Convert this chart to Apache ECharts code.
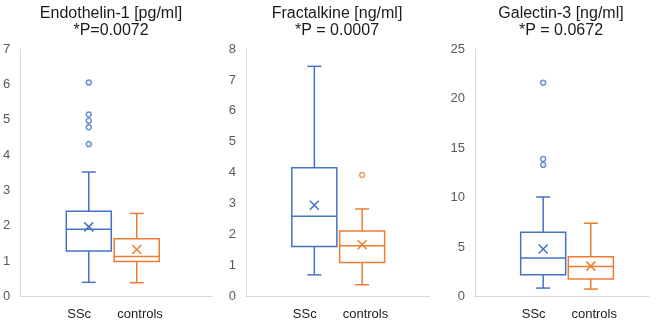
<!DOCTYPE html>
<html>
<head>
<meta charset="utf-8">
<script src="https://cdn.jsdelivr.net/npm/echarts@6/dist/echarts.min.js"></script>
<style>
  html, body { margin: 0; padding: 0; background: #fff; }
  #chart { width: 661px; height: 321px; }
</style>
</head>
<body>
<div id="chart"></div>
<script>
// groups on the x axis
var categories = ['SSc', 'controls'];

// panel titles
var markers = ['Endothelin-1 [pg/ml]', 'Fractalkine [ng/ml]', 'Galectin-3 [ng/ml]'];
var pValues = ['*P=0.0072', '*P = 0.0007', '*P = 0.0672'];

// y axis ticks
var yMax = [7, 8, 25];
var yStep = [1, 1, 5];

// box stats: [min, Q1, median, Q3, max, mean]
var endothelinSSc = [0.40, 1.29, 1.90, 2.41, 3.52, 1.97];
var endothelinControls = [0.39, 0.99, 1.13, 1.63, 2.35, 1.33];
var fractalkineSSc = [0.70, 1.62, 2.59, 4.16, 7.44, 2.95];
var fractalkineControls = [0.38, 1.10, 1.64, 2.12, 2.83, 1.67];
var galectinSSc = [0.85, 2.19, 3.88, 6.50, 10.05, 4.79];
var galectinControls = [0.75, 1.78, 3.03, 4.02, 7.40, 3.07];

// outliers
var endothelinSScOut = [6.05, 5.15, 4.97, 4.79, 4.31];
var endothelinControlsOut = [];
var fractalkineSScOut = [];
var fractalkineControlsOut = [3.93];
var galectinSScOut = [21.6, 13.9, 13.3];
var galectinControlsOut = [];

var boxStats = [
  [endothelinSSc, endothelinControls],
  [fractalkineSSc, fractalkineControls],
  [galectinSSc, galectinControls]
];
var outliers = [
  [endothelinSScOut, endothelinControlsOut],
  [fractalkineSScOut, fractalkineControlsOut],
  [galectinSScOut, galectinControlsOut]
];

// layout
var colors = ['#4472C4', '#ED7D31'];
var grids = [
  { left: 17, width: 195 },
  { left: 246, width: 184 },
  { left: 475, width: 174 }
];
var xMax = [4, 3.85, 3.65];
var titleX = [106, 332, 556];
var boxPos = [1.43, 2.43];
var labelPos = [1.23, 2.5];
var BOX_W = 45, CAP_W = 14, MEAN_W = 9, LW = 1.5;

function renderBox(params, api) {
  var x = api.value(0);
  var pMin = api.coord([x, api.value(1)]);
  var pQ1 = api.coord([x, api.value(2)]);
  var pMed = api.coord([x, api.value(3)]);
  var pQ3 = api.coord([x, api.value(4)]);
  var pMax = api.coord([x, api.value(5)]);
  var pMean = api.coord([x, api.value(6)]);
  var cx = pMed[0];
  var h = BOX_W / 2, c = CAP_W / 2, m = MEAN_W / 2;
  var style = { stroke: api.visual('color'), lineWidth: LW, fill: null };
  function line(x1, y1, x2, y2) {
    return { type: 'line', shape: { x1: x1, y1: y1, x2: x2, y2: y2 }, style: style };
  }
  return {
    type: 'group',
    children: [
      { type: 'rect', shape: { x: cx - h, y: pQ3[1], width: BOX_W, height: pQ1[1] - pQ3[1] }, style: style },
      line(cx - h, pMed[1], cx + h, pMed[1]),
      line(cx, pQ3[1], cx, pMax[1]),
      line(cx, pQ1[1], cx, pMin[1]),
      line(cx - c, pMax[1], cx + c, pMax[1]),
      line(cx - c, pMin[1], cx + c, pMin[1]),
      line(cx - m, pMean[1] - m, cx + m, pMean[1] + m),
      line(cx - m, pMean[1] + m, cx + m, pMean[1] - m)
    ]
  };
}

var option = {
  animation: false,
  title: [],
  grid: [],
  xAxis: [],
  yAxis: [],
  series: []
};

for (var i = 0; i < 3; i++) {
  option.title.push({
    text: markers[i] + '\n' + pValues[i],
    left: titleX[i],
    top: 0,
    textAlign: 'center',
    textStyle: { fontFamily: 'Liberation Sans', fontSize: 16, fontWeight: 'normal', lineHeight: 17, color: '#1a1a1a' }
  });
  option.grid.push({ left: grids[i].left, width: grids[i].width, top: 49, bottom: 24.5 });
  option.xAxis.push({
    type: 'value',
    gridIndex: i,
    min: 0,
    max: xMax[i],
    axisLine: { show: true, lineStyle: { color: '#d9d9d9' } },
    axisTick: { show: false },
    splitLine: { show: false },
    axisLabel: {
      customValues: labelPos,
      margin: 11,
      fontFamily: 'Liberation Sans',
      fontSize: 13,
      color: '#1a1a1a',
      formatter: function (v) { return categories[labelPos.indexOf(v)]; }
    }
  });
  option.yAxis.push({
    type: 'value',
    gridIndex: i,
    min: 0,
    max: yMax[i],
    interval: yStep[i],
    axisLine: { show: true, lineStyle: { color: '#d9d9d9' } },
    axisTick: { show: false },
    splitLine: { show: false },
    axisLabel: { margin: 10, fontFamily: 'Liberation Sans', fontSize: 13, color: '#595959' }
  });
  for (var k = 0; k < categories.length; k++) {
    var s = boxStats[i][k];
    option.series.push({
      name: categories[k],
      type: 'custom',
      xAxisIndex: i,
      yAxisIndex: i,
      itemStyle: { color: colors[k] },
      renderItem: renderBox,
      encode: { x: 0, y: [1, 2, 3, 4, 5] },
      data: [[boxPos[k]].concat(s)]
    });
    option.series.push({
      name: categories[k] + ' outliers',
      type: 'scatter',
      xAxisIndex: i,
      yAxisIndex: i,
      symbol: 'circle',
      symbolSize: 5,
      itemStyle: { color: '#fff', borderColor: colors[k], borderWidth: LW },
      data: outliers[i][k].map(function (v) { return [boxPos[k], v]; })
    });
  }
}

var chart = echarts.init(document.getElementById('chart'));
chart.setOption(option);
</script>
</body>
</html>
